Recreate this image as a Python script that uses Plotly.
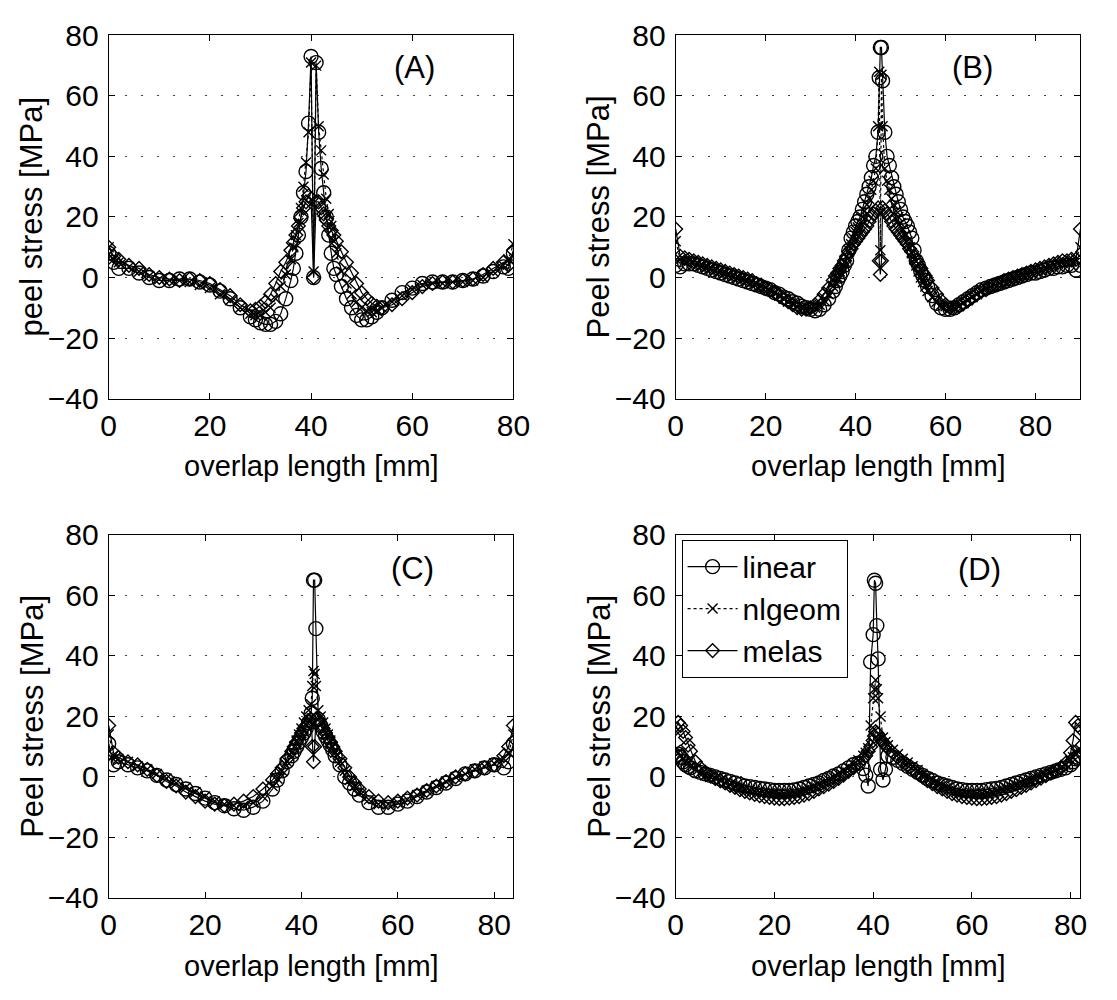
import plotly.graph_objects as go

# ---------------- data: peel stress along the overlap [MPa] ----------------
# Panel A (overlap 0-80 mm)
A_x = [0, 1, 2, 4, 6, 8, 10, 12, 14, 16, 18, 20, 22, 24, 26, 28,
       29, 30, 31, 32, 33, 34, 35, 36,
       36.5, 37, 37.5, 38, 38.5, 39, 39.5, 40, 40.5, 41, 41.5, 42, 42.5, 43, 43.5, 44, 44.5, 45,
       46, 47, 48, 49, 50, 51, 52, 53, 54,
       56, 58, 60, 62, 64, 66, 68, 70, 72, 74, 76, 78,
       79, 80]
A_linear = [8, 5, 3, 3, 1.5, 0, -1, -1, -0.5, -0.5, -1.5, -2.5, -4.5, -7, -10, -13,
            -14, -15, -15.5, -15.5, -14.5, -12, -7, -1,
            3, 8, 14, 20, 28, 35, 51, 73, 0, 71, 48, 36, 28, 20, 14, 8, 3, 1,
            -3, -7, -10, -12.5, -14, -14, -13, -11.5, -10,
            -7.5, -5, -3.5, -2, -1.5, -1.5, -1.5, -1, -0.5, 0.5, 2, 3.5,
            3, 8]
A_nlgeom = [10, 6, 5, 3.5, 2, 0.5, -0.5, -1, -1, -1.5, -2.5, -3.5, -5.5, -7.5, -10, -12,
            -12.5, -12.5, -11.5, -10, -7, -3, 1, 6,
            10, 14, 18, 23, 30, 38, 48, 71, 2, 70, 50, 42, 34, 26, 21, 17, 12, 8,
            2, -2, -5.5, -8, -10, -11, -11.5, -11, -10,
            -8, -6, -4, -2.5, -2, -2, -1.5, -1.5, -1, 0, 2, 4,
            6, 11]
A_melas = [10, 7, 6, 4, 3, 1, 0, -0.5, -1, -0.5, -1, -2, -4, -6, -9, -11,
           -10.5, -9.5, -8, -5.5, -2, 2, 5, 9,
           11.5, 14, 17, 20, 23, 25, 27, 26, 0, 25, 25, 23, 21, 19, 17, 15.5, 14, 12,
           8.5, 5, 1.5, -2, -5, -7, -8.5, -9.5, -10,
           -9, -7, -5, -3, -2, -1.5, -1.5, -1, -0.5, 1, 3, 5,
           4, 9]

# Panel B (overlap 0-90 mm)
B_x = [0, 1, 2, 3, 4, 5, 6, 7, 8, 9, 10, 11, 12, 13, 14, 15, 16, 17, 18, 19, 20, 21,
       22, 23, 24, 25, 26, 27, 28, 29, 30, 31, 32, 33, 34, 35,
       35.5, 36, 36.5, 37, 37.5, 38, 38.5, 39, 39.5, 40, 40.5, 41, 41.5, 42, 42.5, 43,
       43.5, 44, 44.5, 45,
       45.25, 45.5, 45.75,
       46, 46.5, 47, 47.5, 48, 48.5, 49, 49.5, 50, 50.5, 51, 51.5, 52, 52.5, 53, 53.5,
       54, 54.5, 55, 55.5, 56,
       57, 58, 59, 60, 61, 62, 63, 64, 65, 66, 67, 68, 69, 70, 71, 72, 73, 74, 75, 76,
       77, 78, 79, 80, 81, 82, 83, 84, 85, 86, 87, 88, 89, 90]
B_linear = [4, 3.5, 4.5, 4.5, 4.5, 4, 3.5, 3, 2.5, 2, 1.5, 1, 0.5, 0, -0.5, -1, -1.5, -2,
            -2.5, -3, -3.5, -4, -5, -5.5, -6.5, -7, -8, -8.5, -9.5, -10, -10.5, -11, -10.5,
            -9, -7, -4.5,
            -3, -1, 0.5, 2, 4, 5.5, 9, 13, 15, 17, 18.5, 20, 22.5, 25, 27.5, 30,
            33, 37, 40, 48,
            66, 76, 76,
            65, 48, 40, 37, 33, 30, 27.5, 25, 22.5, 20, 18.5, 17, 15, 13, 9, 5.5,
            4, 2, 0.5, -1, -3,
            -6, -8.5, -10, -10.5, -10.5, -10, -9, -8, -7, -6, -5, -4, -3.5, -3, -2.5, -2,
            -1.5, -1, -0.5, 0, 0.5, 1, 1.5, 1.5, 2, 2.5, 3, 3, 3.5, 3.5, 4, 4, 2.5, 4]
B_nlgeom = [12, 6, 5.5, 5.5, 5, 4.5, 4, 3.5, 3, 2.5, 2, 1.5, 1, 0.5, 0, -0.5, -1, -1.5,
            -2, -3, -3.5, -4.5, -5, -6, -7, -8, -8.5, -9.5, -10, -10.5, -10.5, -10, -9,
            -7.5, -5.5, -3,
            -1.5, 0, 2, 3.5, 5, 7, 9, 11, 13, 15, 16.5, 18, 20, 22, 24, 26,
            29, 32, 36, 50,
            68, 9, 67,
            50, 36, 32, 29, 26, 24, 22, 20, 18, 16, 14, 12, 10, 8, 6, 4,
            2, 0, -1.5, -3, -4.5,
            -6.5, -8, -9, -9.5, -10, -10, -9.5, -8.5, -7.5, -6.5, -5.5, -4.5, -3.5, -3,
            -2.5, -2, -1.5, -1, -0.5, 0, 0.5, 1, 1.5, 2, 2.5, 3, 3.5, 4, 4.5, 5, 5, 5.5,
            6, 10]
B_melas = [16, 7, 6.5, 6, 5.5, 5, 4.5, 4, 3.5, 3, 2.5, 2, 1.5, 1, 0.5, 0, -0.5, -1, -2,
           -2.5, -3.5, -4, -5, -6, -7, -8, -9, -10, -10.5, -10.5, -10, -9, -7.5, -5.5,
           -3.5, -1,
           0.5, 1.5, 3, 4, 5.5, 7, 8.5, 9.5, 11, 12, 13, 14, 15, 16, 17, 18.5,
           20, 21, 22, 23,
           5.5, 1, 5.5,
           23, 22, 21, 20, 18.5, 17, 16, 15, 14, 13, 12, 11, 9.5, 8.5, 7, 5.5,
           4, 3, 1.5, 0.5, -1,
           -3.5, -5.5, -7.5, -9, -10, -10, -9.5, -8.5, -7.5, -6.5, -5.5, -4.5, -4, -3,
           -2.5, -2, -1, -0.5, 0, 0.5, 1, 1.5, 2, 2.5, 3, 3.5, 4, 4.5, 5, 5.5, 5.5, 6,
           6, 16]

# Panel C (overlap 0-84 mm)
C_x = [0, 1, 2, 4, 6, 8, 10, 12, 14, 16, 18, 20, 22, 24, 26, 28, 30, 32, 34,
       35, 36, 37, 38, 38.5, 39, 39.5, 40, 40.5, 41, 41.5, 42,
       42.25, 42.5, 42.75, 43, 43.5, 44, 44.5, 45, 45.5, 46, 46.5, 47,
       48, 49, 50, 51, 52, 54, 56, 58, 60, 62, 64, 66, 68, 70, 72, 74, 76, 78, 80, 82,
       83, 84]
C_linear = [11, 4, 5, 4, 3, 2, 0.5, -1, -2.5, -4, -5.5, -7, -8.5, -9.5, -10.5, -11, -10, -8, -4,
            -1, 2, 5, 7, 8.5, 10, 11.5, 13, 14.5, 16, 18, 21,
            26, 65, 65, 49, 19, 17, 15, 13.5, 12, 10.5, 9, 7,
            4, 0, -2, -4, -6, -8.5, -10, -10, -9, -8, -6.5, -5, -3.5, -2, -0.5, 1, 2, 3, 4, 3,
            5, 11]
C_nlgeom = [14, 7, 6, 5, 3.5, 2.5, 1, -0.5, -2, -3.5, -5, -6.5, -8, -9, -9.5, -9.5, -8.5, -6.5, -3,
            -0.5, 2, 5, 8, 10, 12, 14, 16, 18, 20, 22, 24,
            30, 35, 34, 30, 22, 20, 18, 16, 14, 12, 10, 8,
            5, 2, -1, -3, -5, -7.5, -9, -9, -8.5, -7.5, -6, -4.5, -3, -1.5, 0, 1, 2.5, 3.5, 4.5, 6,
            8, 14]
C_melas = [17, 8, 6.5, 5, 4, 2.5, 0.5, -1.5, -3, -5, -6.5, -8, -9, -9.5, -9, -8, -6.5, -4, -1,
           1, 3, 6, 8.5, 10, 11.5, 13, 14.5, 16, 17, 18.5, 19,
           10, 5, 10, 19, 19, 17.5, 16, 14.5, 13, 11.5, 10, 8.5,
           6, 3, 0, -2, -4, -6.5, -8, -8.5, -8, -7, -6, -4.5, -3, -1.5, 0, 1, 2, 3, 4, 7,
           10, 17]

# Panel D (overlap 0-82 mm)
D_x = [0, 0.5, 1, 1.5, 2, 2.5, 3,
       4, 5, 6, 7, 8, 9, 10, 11, 12, 13, 14, 15, 16, 17, 18, 19, 20, 21, 22, 23, 24, 25, 26,
       27, 28, 29, 30, 31, 32, 33, 34, 35, 36, 37, 38,
       38.5, 39, 39.5, 40, 40.25, 40.5, 40.75, 41, 41.5, 42, 42.5, 43,
       44, 45, 46, 47, 48, 49, 50, 51, 52, 53, 54, 55, 56, 57, 58, 59, 60, 61, 62, 63, 64,
       65, 66, 67, 68, 69, 70, 71, 72, 73, 74, 75, 76, 77, 78, 79, 80,
       80.5, 81, 81.5, 82]
D_linear = [7, 7.5, 6.5, 5, 4, 3.5, 3,
            2, 1.5, 1, 0.5, 0, -0.5, -1, -1.5, -2, -2.5, -3, -3.2, -3.5, -3.8, -4, -4.2, -4.5,
            -4.5, -4.5, -4.5, -4.3, -4, -3.5, -3, -2.5, -2, -1.2, -0.5, 0.3, 1, 2, 3, 4, 4.5, 2.8,
            0.6, -3, 38, 47, 65, 64, 50, 39, 2.5, -1, 2.5, 7,
            6.5, 5.5, 4.5, 3.5, 2.5, 1.5, 0.5, -0.5, -1.2, -2, -2.5, -3, -3.5, -4, -4.2, -4.5,
            -4.5, -4.5, -4.5, -4.2, -4, -3.8, -3.5, -3, -2.5, -2, -1.5, -1, -0.5, 0, 0.5, 1,
            1.5, 2, 2.5, 3, 4,
            5, 6, 6.5, 7]
D_nlgeom = [9, 8, 7, 6, 5, 4.5, 3.5,
            2.5, 1.5, 0.5, 0, -0.5, -1.2, -2, -2.5, -3, -3.5, -4, -4.3, -4.6, -5, -5.2, -5.4,
            -5.5, -5.6, -5.6, -5.5, -5.2, -4.8, -4.4, -3.8, -3.2, -2.5, -1.8, -1, -0.2, 0.8,
            1.8, 3, 4.2, 5.5, 7,
            8, 9.5, 17, 26, 29, 32, 29, 26, 20, 13, 11.5, 10.5,
            9, 7.5, 6, 4.8, 3.5, 2.3, 1, 0, -1, -2, -2.8, -3.5, -4.2, -4.8, -5.2, -5.5, -5.6,
            -5.6, -5.5, -5.3, -5, -4.6, -4.2, -3.7, -3.2, -2.7, -2.2, -1.6, -1, -0.4, 0.2, 0.8,
            1.5, 2.2, 3, 4, 5.5,
            6.5, 8, 9, 9]
D_melas = [16, 18, 17, 15, 13, 10.5, 8.5,
           5, 3, 1.5, 0.5, -0.5, -1.2, -2, -2.8, -3.5, -4.2, -4.8, -5.3, -5.8, -6.2, -6.5, -6.8,
           -7, -7.2, -7.2, -7, -6.8, -6.5, -6, -5.5, -4.8, -4, -3.2, -2.4, -1.5, -0.5,
           0.6, 1.8, 3, 4.5, 6,
           7, 8.5, 10, 12, 13.5, 15, 14.5, 14, 12.5, 11.5, 10.5, 9.5,
           8, 6.5, 5, 3.8, 2.5, 1.2, 0, -1.2, -2.2, -3.2, -4, -4.8, -5.5, -6, -6.5, -6.8, -7,
           -7.2, -7.2, -7, -6.8, -6.5, -6, -5.5, -4.8, -4.2, -3.5, -2.8, -2, -1.2, -0.4, 0.4,
           1.2, 2, 3, 4.5, 8,
           12, 18, 17, 16]

series_names = ["linear", "nlgeom", "melas"]
x_ticks = [0, 20, 40, 60, 80]
y_ticks = [-40, -20, 0, 20, 40, 60, 80]
x_limits = {"A": 80, "B": 90, "C": 84, "D": 82}
y_titles = {"A": "peel stress [MPa]", "B": "Peel stress [MPa]",
            "C": "Peel stress [MPa]", "D": "Peel stress [MPa]"}
x_title = "overlap length [mm]"

panels = [
    ("A", A_x, [A_linear, A_nlgeom, A_melas]),
    ("B", B_x, [B_linear, B_nlgeom, B_melas]),
    ("C", C_x, [C_linear, C_nlgeom, C_melas]),
    ("D", D_x, [D_linear, D_nlgeom, D_melas]),
]

for tag, xs, ys in panels:
    for name, y in zip(series_names, ys):
        if len(y) != len(xs):
            raise ValueError(f"{tag}/{name}: {len(y)} values for {len(xs)} positions")

# ---------------- styling ----------------
FONT = "Liberation Sans, Arial, Helvetica, sans-serif"
W, H = 1117, 1000

# plot-area boxes in pixels: (left, right, top, bottom)
boxes = {
    "A": (103, 517, 19, 395),
    "B": (683, 1097, 19, 395),
    "C": (103, 517, 536, 912),
    "D": (683, 1097, 536, 912),
}
label_pos = {"A": (60.5, 69.5), "B": (66, 69.5), "C": (63, 69), "D": (61.5, 68.5)}

styles = {
    "linear": dict(marker=dict(symbol="circle-open", size=14, color="black",
                               line=dict(width=1.4, color="black")),
                   line=dict(color="black", width=1.2)),
    "nlgeom": dict(marker=dict(symbol="x-thin-open", size=10, color="black",
                               line=dict(width=1.4, color="black")),
                   line=dict(color="black", width=1.2, dash="dot")),
    "melas": dict(marker=dict(symbol="diamond-open", size=10.5, color="black",
                              line=dict(width=1.4, color="black")),
                  line=dict(color="black", width=1.2)),
}

fig = go.Figure()
annotations = []
layout = {}

for i, (tag, xs, ys) in enumerate(panels, start=1):
    xa = "x" if i == 1 else f"x{i}"
    ya = "y" if i == 1 else f"y{i}"
    l, r, t, b = boxes[tag]
    for name, y in zip(series_names, ys):
        st = styles[name]
        fig.add_trace(go.Scatter(
            x=xs, y=y, mode="lines+markers", name=name,
            xaxis=xa, yaxis=ya, showlegend=(tag == "D"),
            marker=st["marker"], line=st["line"],
        ))
    axis_common = dict(
        showline=True, linecolor="black", linewidth=1, mirror="ticks",
        ticks="inside", ticklen=6, tickwidth=1, tickcolor="black",
        zeroline=False,
        tickfont=dict(family=FONT, size=30, color="black"),
    )
    layout["xaxis" if i == 1 else f"xaxis{i}"] = dict(
        axis_common, domain=[l / W, r / W], anchor=ya,
        range=[0, x_limits[tag]], tickvals=x_ticks, showgrid=False,
        ticklabelstandoff=0,
    )
    layout["yaxis" if i == 1 else f"yaxis{i}"] = dict(
        axis_common, domain=[1 - b / H, 1 - t / H], anchor=xa,
        range=[-40, 80], tickvals=y_ticks, ticklabelstandoff=3,
        showgrid=True, gridcolor="#444444", gridwidth=1, griddash="2px,14px",
    )
    # axis titles
    annotations.append(dict(
        text=x_title, xref="paper", yref="paper",
        x=(l + r) / 2 / W, y=1 - (b + 70) / H, xanchor="center", yanchor="middle",
        showarrow=False, font=dict(family=FONT, size=29, color="black"),
    ))
    annotations.append(dict(
        text=y_titles[tag], xref="paper", yref="paper",
        x=(l - 78) / W, y=1 - (t + b) / 2 / H, xanchor="center", yanchor="middle",
        textangle=-90, showarrow=False, font=dict(family=FONT, size=31, color="black"),
    ))
    # panel tag
    lx, ly = label_pos[tag]
    annotations.append(dict(
        text=f"({tag})", xref=xa, yref=ya, x=lx, y=ly,
        xanchor="center", yanchor="middle", showarrow=False,
        font=dict(family=FONT, size=31, color="black"),
    ))

fig.update_layout(
    **layout,
    annotations=annotations,
    width=W, height=H,
    margin=dict(l=0, r=0, t=0, b=0),
    paper_bgcolor="white", plot_bgcolor="white",
    font=dict(family=FONT, color="black"),
    legend=dict(
        x=689 / W, y=1 - 541 / H, xanchor="left", yanchor="top",
        bgcolor="white", bordercolor="black", borderwidth=1,
        font=dict(family=FONT, size=30, color="black"),
        itemwidth=50, tracegroupgap=0,
    ),
)

fig.write_html("out.html")
